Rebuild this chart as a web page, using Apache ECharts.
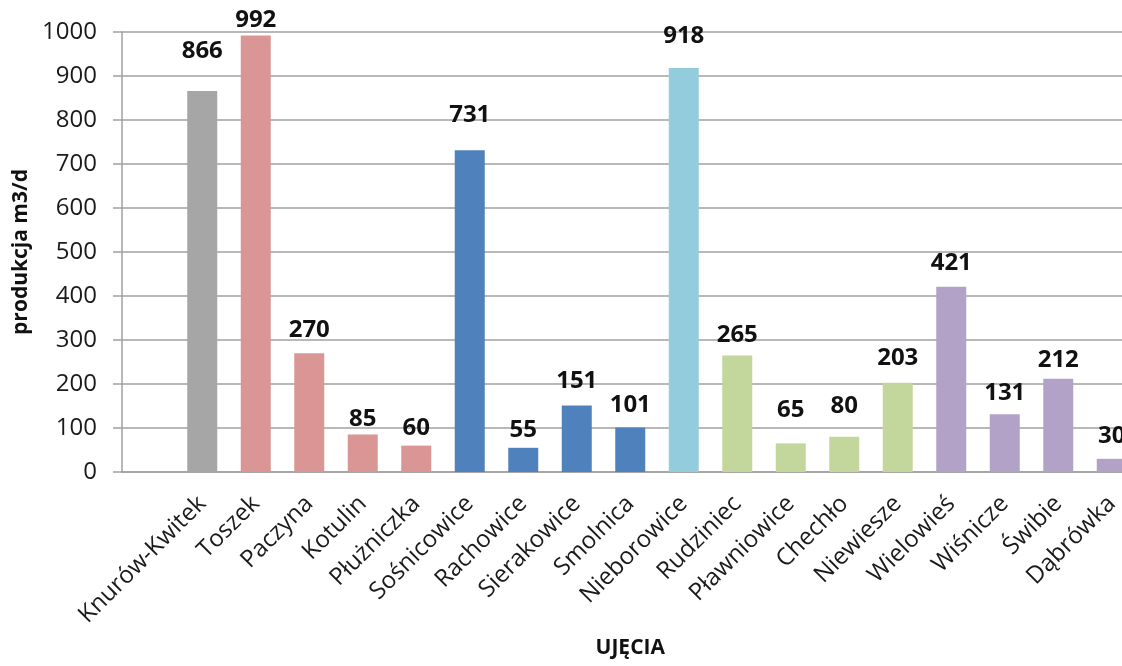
<!DOCTYPE html>
<html>
<head>
<meta charset="utf-8">
<script src="https://cdn.jsdelivr.net/npm/echarts@6/dist/echarts.min.js"></script>
<style>html,body{margin:0;padding:0;background:#fff;overflow:hidden}#c{width:1122px;height:666px}</style>
</head>
<body>
<div id="c"></div>
<script>
// Data
const categories = ['', 'Knurów-Kwitek', 'Toszek', 'Paczyna', 'Kotulin', 'Płużniczka', 'Sośnicowice', 'Rachowice', 'Sierakowice', 'Smolnica', 'Nieborowice', 'Rudziniec', 'Pławniowice', 'Chechło', 'Niewiesze', 'Wielowieś', 'Wiśnicze', 'Świbie', 'Dąbrówka'];
const values = [null, 866, 992, 270, 85, 60, 731, 55, 151, 101, 918, 265, 65, 80, 203, 421, 131, 212, 30];
const yTicks = [0, 100, 200, 300, 400, 500, 600, 700, 800, 900, 1000];

// Styles (not data)
const barColors = ['#A6A6A6', '#A6A6A6', '#D99694', '#D99694', '#D99694', '#D99694', '#4F81BD', '#4F81BD', '#4F81BD', '#4F81BD', '#93CDDD', '#C3D69B', '#C3D69B', '#C3D69B', '#C3D69B', '#B3A2C7', '#B3A2C7', '#B3A2C7', '#B3A2C7'];
const labelGaps = [0, 28, 3, 11, 3, 5, 23, 6, 12, 10, 20, 8, 21, 19, 13, 12, 9, 7, 11];

const font = '"Open Sans", "DejaVu Sans", sans-serif';
const chart = echarts.init(document.getElementById('c'));
chart.setOption({
  animation: false,
  backgroundColor: '#fff',
  grid: { left: 122, width: 1016.5, top: 32, bottom: 194, containLabel: false, outerBoundsMode: 'none' },
  xAxis: {
    type: 'category',
    data: categories,
    axisLine: { lineStyle: { color: '#A0A0A0', width: 1.5 } },
    axisTick: { show: false },
    axisLabel: { rotate: 45, interval: 0, margin: 28, fontFamily: font, fontSize: 24, color: '#1a1a1a' },
    name: 'UJĘCIA',
    nameLocation: 'middle',
    nameGap: 166,
    nameTextStyle: { fontFamily: font, fontSize: 21, fontWeight: 'bold', color: '#111' }
  },
  yAxis: {
    type: 'value',
    min: yTicks[0],
    max: yTicks[yTicks.length - 1],
    interval: 100,
    axisLine: { show: true, lineStyle: { color: '#A0A0A0', width: 1.5 } },
    axisTick: { show: true, length: 9, lineStyle: { color: '#A0A0A0', width: 1.5 } },
    splitLine: { lineStyle: { color: '#A0A0A0', width: 1.5 } },
    axisLabel: { margin: 25, fontFamily: font, fontSize: 24, color: '#1a1a1a', formatter: v => String(v) },
    name: 'produkcja m3/d',
    nameLocation: 'middle',
    nameGap: 90,
    nameRotate: 90,
    nameTextStyle: { fontFamily: font, fontSize: 21, fontWeight: 'bold', color: '#111' }
  },
  series: [{
    type: 'bar',
    barWidth: 30,
    data: values.map((v, i) => ({
      value: v,
      itemStyle: { color: barColors[i] },
      label: { distance: labelGaps[i] }
    })),
    label: {
      show: true,
      position: 'top',
      fontFamily: font,
      fontSize: 24,
      fontWeight: 'bold',
      color: '#111'
    }
  }]
});
</script>
</body>
</html>
